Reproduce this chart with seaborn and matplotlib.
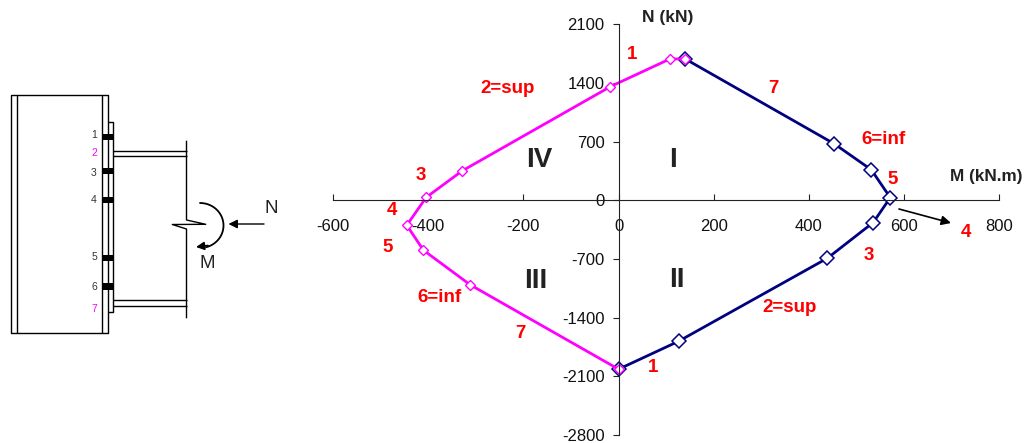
import numpy as np
import pandas as pd
import seaborn as sns
import matplotlib.pyplot as plt

# right side of the envelope (quadrants I, II)
m_right = [140, 453, 531, 571, 535, 439, 126, 0]
n_right = [1687, 675, 365, 32, -265, -690, -1682, -2015]
# left side of the envelope (quadrants IV, III)
m_left = [140, 108, -17, -329, -404, -445, -410, -312, 0]
n_left = [1687, 1687, 1357, 350, 36, -298, -595, -1007, -2015]

x_ticks = [-600, -400, -200, 0, 200, 400, 600, 800]
y_ticks = [2100, 1400, 700, 0, -700, -1400, -2100, -2800]

quadrants = [("I", 673, 160), ("IV", 539, 160), ("III", 536, 281), ("II", 677, 280)]
red_labels = [("1", 632, 54), ("7", 773, 88), ("6=inf", 883, 140), ("5", 893, 179),
              ("4", 966, 232), ("3", 869, 256), ("2=sup", 790, 308), ("1", 653, 367),
              ("7", 520, 334), ("6=inf", 440, 298), ("5", 388, 247), ("4", 392, 210),
              ("3", 421, 176), ("2=sup", 508, 88)]
bolt_labels = [("1", 134.5, "#333333"), ("2", 153.5, "#ff00ff"), ("3", 172.5, "#333333"),
               ("4", 199.5, "#333333"), ("5", 257.5, "#333333"), ("6", 286.5, "#333333"),
               ("7", 308.5, "#ff00ff")]
bolt_rows = [133.5, 167.5, 196.5, 254.7, 283.3]

sns.set_style("white")
plt.rcParams['font.family'] = ['Liberation Sans', 'DejaVu Sans']
plt.rcParams['axes.unicode_minus'] = False

fig = plt.figure(figsize=(10.28, 4.43), dpi=100)
W, H = 1028, 443
ax = fig.add_axes([333 / W, 1 - 435 / H, (999.3 - 333) / W, (435 - 24.3) / H])

right = pd.DataFrame({"m": m_right, "n": n_right})
left = pd.DataFrame({"m": m_left, "n": n_left})

sns.lineplot(data=right, x="m", y="n", sort=False, estimator=None, ax=ax, color="#000080",
             linewidth=2.0, marker="D", markersize=7, markerfacecolor="white",
             markeredgecolor="#000080", markeredgewidth=1.1, clip_on=False)
sns.lineplot(data=left, x="m", y="n", sort=False, estimator=None, ax=ax, color="#ff00ff",
             linewidth=2.0, marker="D", markersize=5, markerfacecolor="white",
             markeredgecolor="#ff00ff", markeredgewidth=1.0, clip_on=False)

ax.set_xlim(-600, 800)
ax.set_ylim(-2800, 2100)
ax.set_xticks(x_ticks)
ax.set_yticks(y_ticks)
ax.set_xlabel("")
ax.set_ylabel("")
ax.patch.set_alpha(0)
ax.spines["top"].set_visible(False)
ax.spines["right"].set_visible(False)
ax.spines["left"].set_position(("data", 0))
ax.spines["bottom"].set_position(("data", 0))
ax.spines["left"].set_color("#222222")
ax.spines["bottom"].set_color("#222222")
ax.spines["left"].set_linewidth(0.8)
ax.spines["bottom"].set_linewidth(0.8)
ax.tick_params(axis="x", direction="in", length=4, width=0.8, color="#222222",
               labelsize=12, pad=13.5, labelcolor="#111111", bottom=True)
ax.tick_params(axis="y", direction="out", length=4, width=0.8, color="#222222",
               labelsize=12, pad=6, labelcolor="#111111", left=True)

# overlay in pixel coordinates for the annotations and the joint sketch
ov = fig.add_axes([0, 0, 1, 1])
ov.set_xlim(0, W)
ov.set_ylim(H, 0)
ov.axis("off")
ov.patch.set_alpha(0)

for txt, x, y in quadrants:
    ov.text(x, y, txt, fontsize=20, fontweight="bold", color="#222222", ha="center", va="center")
for txt, x, y in red_labels:
    ov.text(x, y, txt, fontsize=13.5, fontweight="bold", color="#ff0000", ha="center", va="center")
ov.text(668, 17, "N (kN)", fontsize=12.5, fontweight="bold", color="#222222", ha="center", va="center")
ov.text(986, 177, "M (kN.m)", fontsize=12.3, fontweight="bold", color="#222222", ha="center", va="center")
ov.annotate("", xy=(951, 223), xytext=(899, 209),
            arrowprops=dict(arrowstyle="-|>", color="black", lw=1.2, mutation_scale=14, shrinkA=0, shrinkB=0))

# joint sketch
lw = 1.0
def seg(xs, ys, width=lw):
    ov.plot(xs, ys, color="black", linewidth=width, solid_capstyle="butt")

seg([10.7, 108, 108, 10.7, 10.7], [95, 95, 333, 333, 95])
seg([16.7, 16.7], [95, 333])
seg([102.3, 102.3], [95, 333])
seg([108, 113.3, 113.3, 108], [122, 122, 311.7, 311.7])
for yb in bolt_rows:
    ov.fill_between([102.3, 113.3], yb, yb + 6.5, color="black", linewidth=0)
for txt, yb, col in bolt_labels:
    ov.text(94, yb, txt, fontsize=7.5, color=col, ha="center", va="center")
for yf in [151.3, 156.3, 300.3, 306]:
    seg([113.3, 186.5], [yf, yf])
seg([186.5, 186.5, 205.7, 172.3, 186.5, 186.5], [140.7, 220, 224.3, 224.5, 229, 318.3])

ang = np.radians(np.linspace(-90, 75, 40))
ov.plot(200 + 23.5 * np.cos(ang), 225.5 + 22.5 * np.sin(ang), color="black", linewidth=1.3)
ov.annotate("", xy=(196, 247), xytext=(208, 245.5),
            arrowprops=dict(arrowstyle="-|>", color="black", lw=1.2, mutation_scale=12, shrinkA=0, shrinkB=0))
ov.annotate("", xy=(228.5, 224), xytext=(264, 224),
            arrowprops=dict(arrowstyle="-|>", color="black", lw=1.0, mutation_scale=13, shrinkA=0, shrinkB=0))
ov.text(271.7, 208, "N", fontsize=13.5, color="#222222", ha="center", va="center")
ov.text(207.3, 263, "M", fontsize=13.5, color="#222222", ha="center", va="center")

fig.savefig("out.png", dpi=100)
